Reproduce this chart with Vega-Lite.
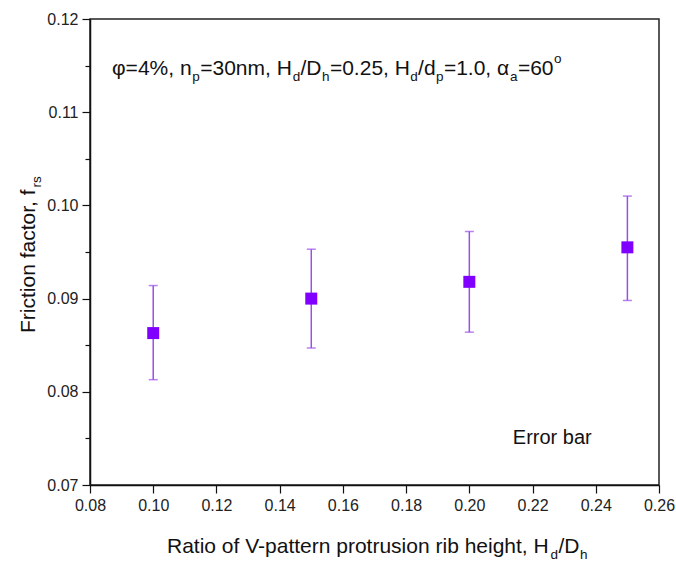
{
  "$schema": "https://vega.github.io/schema/vega-lite/v6.json",
  "width": 569,
  "height": 466,
  "autosize": "none",
  "padding": {"left": 90, "top": 19, "right": 17, "bottom": 78},
  "background": "white",
  "config": {
    "view": {"stroke": "#222", "strokeWidth": 1.5},
    "font": "Liberation Sans",
    "axis": {
      "domainColor": "#111",
      "domainWidth": 1.5,
      "tickColor": "#111",
      "tickWidth": 1.2,
      "labelFont": "Liberation Sans",
      "labelFontSize": 16,
      "labelColor": "#222",
      "labelFlush": false,
      "grid": false,
      "title": null
    }
  },
  "datasets": {
    "pts": [
      {"ratio": 0.10, "f": 0.0863, "lo": 0.0813, "hi": 0.0914},
      {"ratio": 0.15, "f": 0.0900, "lo": 0.0847, "hi": 0.0953},
      {"ratio": 0.20, "f": 0.0918, "lo": 0.0864, "hi": 0.0972},
      {"ratio": 0.25, "f": 0.0955, "lo": 0.0898, "hi": 0.1010}
    ],
    "notes": [
      {"x": 0.08696, "y": 0.11399, "text": "φ=4%, n", "kind": "main"},
      {"x": 0.11236, "y": 0.11335, "text": "p", "kind": "sub"},
      {"x": 0.11486, "y": 0.11399, "text": "=30nm, H", "kind": "main"},
      {"x": 0.14410, "y": 0.11335, "text": "d", "kind": "sub"},
      {"x": 0.14659, "y": 0.11399, "text": "/D", "kind": "main"},
      {"x": 0.15340, "y": 0.11335, "text": "h", "kind": "sub"},
      {"x": 0.15590, "y": 0.11399, "text": "=0.25, H", "kind": "main"},
      {"x": 0.18130, "y": 0.11335, "text": "d", "kind": "sub"},
      {"x": 0.18380, "y": 0.11399, "text": "/d", "kind": "main"},
      {"x": 0.18946, "y": 0.11335, "text": "p", "kind": "sub"},
      {"x": 0.19196, "y": 0.11399, "text": "=1.0, α", "kind": "main"},
      {"x": 0.21287, "y": 0.11335, "text": "a", "kind": "sub"},
      {"x": 0.21537, "y": 0.11399, "text": "=60", "kind": "main"},
      {"x": 0.22682, "y": 0.11528, "text": "o", "kind": "sub"},
      {"x": 0.21376, "y": 0.07440, "text": "Error bar", "kind": "note"},
      {"x": 0.10436, "y": 0.06270, "text": "Ratio of V-pattern protrusion rib height, H", "kind": "main"},
      {"x": 0.22568, "y": 0.06206, "text": "d", "kind": "sub"},
      {"x": 0.22822, "y": 0.06270, "text": "/D", "kind": "main"},
      {"x": 0.23502, "y": 0.06206, "text": "h", "kind": "sub"}
    ],
    "ytitle": [
      {"x": 0.06260, "y": 0.08631, "text": "Friction factor, f", "kind": "main"},
      {"x": 0.06450, "y": 0.10192, "text": "rs", "kind": "sub"}
    ]
  },
  "layer": [
    {
      "data": {"name": "pts"},
      "mark": {"type": "rule", "color": "#9B4FE8", "strokeWidth": 1.5},
      "encoding": {
        "x": {
          "field": "ratio", "type": "quantitative",
          "scale": {"domain": [0.08, 0.26], "nice": false, "zero": false},
          "axis": {
            "values": [0.08, 0.09, 0.10, 0.11, 0.12, 0.13, 0.14, 0.15, 0.16, 0.17, 0.18, 0.19, 0.20, 0.21, 0.22, 0.23, 0.24, 0.25, 0.26],
            "labelExpr": "round(datum.value*100) % 2 == 0 ? format(datum.value, '.2f') : ''",
            "tickSize": {"condition": {"test": "round(datum.value*100) % 2 == 0", "value": 8}, "value": 5},
            "labelPadding": 4
          }
        },
        "y": {
          "field": "lo", "type": "quantitative",
          "scale": {"domain": [0.07, 0.12], "nice": false, "zero": false},
          "axis": {
            "values": [0.07, 0.075, 0.08, 0.085, 0.09, 0.095, 0.10, 0.105, 0.11, 0.115, 0.12],
            "labelExpr": "round(datum.value*1000) % 10 == 0 ? format(datum.value, '.2f') : ''",
            "tickSize": {"condition": {"test": "round(datum.value*1000) % 10 == 0", "value": 8}, "value": 5},
            "labelPadding": 4
          }
        },
        "y2": {"field": "hi"}
      }
    },
    {
      "data": {"name": "pts"},
      "mark": {"type": "tick", "orient": "horizontal", "color": "#9B4FE8", "size": 9, "thickness": 1.5},
      "encoding": {
        "x": {"field": "ratio", "type": "quantitative"},
        "y": {"field": "lo", "type": "quantitative"}
      }
    },
    {
      "data": {"name": "pts"},
      "mark": {"type": "tick", "orient": "horizontal", "color": "#9B4FE8", "size": 9, "thickness": 1.5},
      "encoding": {
        "x": {"field": "ratio", "type": "quantitative"},
        "y": {"field": "hi", "type": "quantitative"}
      }
    },
    {
      "data": {"name": "pts"},
      "mark": {"type": "square", "size": 144, "color": "#7F00FF", "opacity": 1, "filled": true},
      "encoding": {
        "x": {"field": "ratio", "type": "quantitative"},
        "y": {"field": "f", "type": "quantitative"}
      }
    },
    {
      "data": {"name": "notes"},
      "transform": [{"filter": "datum.kind == 'main'"}],
      "mark": {"type": "text", "align": "left", "baseline": "alphabetic", "color": "#111", "font": "Liberation Sans", "fontSize": 21},
      "encoding": {
        "x": {"field": "x", "type": "quantitative"},
        "y": {"field": "y", "type": "quantitative"},
        "text": {"field": "text"}
      }
    },
    {
      "data": {"name": "notes"},
      "transform": [{"filter": "datum.kind == 'sub'"}],
      "mark": {"type": "text", "align": "left", "baseline": "alphabetic", "color": "#111", "font": "Liberation Sans", "fontSize": 13.5},
      "encoding": {
        "x": {"field": "x", "type": "quantitative"},
        "y": {"field": "y", "type": "quantitative"},
        "text": {"field": "text"}
      }
    },
    {
      "data": {"name": "notes"},
      "transform": [{"filter": "datum.kind == 'note'"}],
      "mark": {"type": "text", "align": "left", "baseline": "alphabetic", "color": "#111", "font": "Liberation Sans", "fontSize": 20},
      "encoding": {
        "x": {"field": "x", "type": "quantitative"},
        "y": {"field": "y", "type": "quantitative"},
        "text": {"field": "text"}
      }
    },
    {
      "data": {"name": "ytitle"},
      "transform": [{"filter": "datum.kind == 'main'"}],
      "mark": {"type": "text", "align": "left", "baseline": "alphabetic", "angle": 270, "color": "#111", "font": "Liberation Sans", "fontSize": 21},
      "encoding": {
        "x": {"field": "x", "type": "quantitative"},
        "y": {"field": "y", "type": "quantitative"},
        "text": {"field": "text"}
      }
    },
    {
      "data": {"name": "ytitle"},
      "transform": [{"filter": "datum.kind == 'sub'"}],
      "mark": {"type": "text", "align": "left", "baseline": "alphabetic", "angle": 270, "color": "#111", "font": "Liberation Sans", "fontSize": 13.5},
      "encoding": {
        "x": {"field": "x", "type": "quantitative"},
        "y": {"field": "y", "type": "quantitative"},
        "text": {"field": "text"}
      }
    }
  ]
}
